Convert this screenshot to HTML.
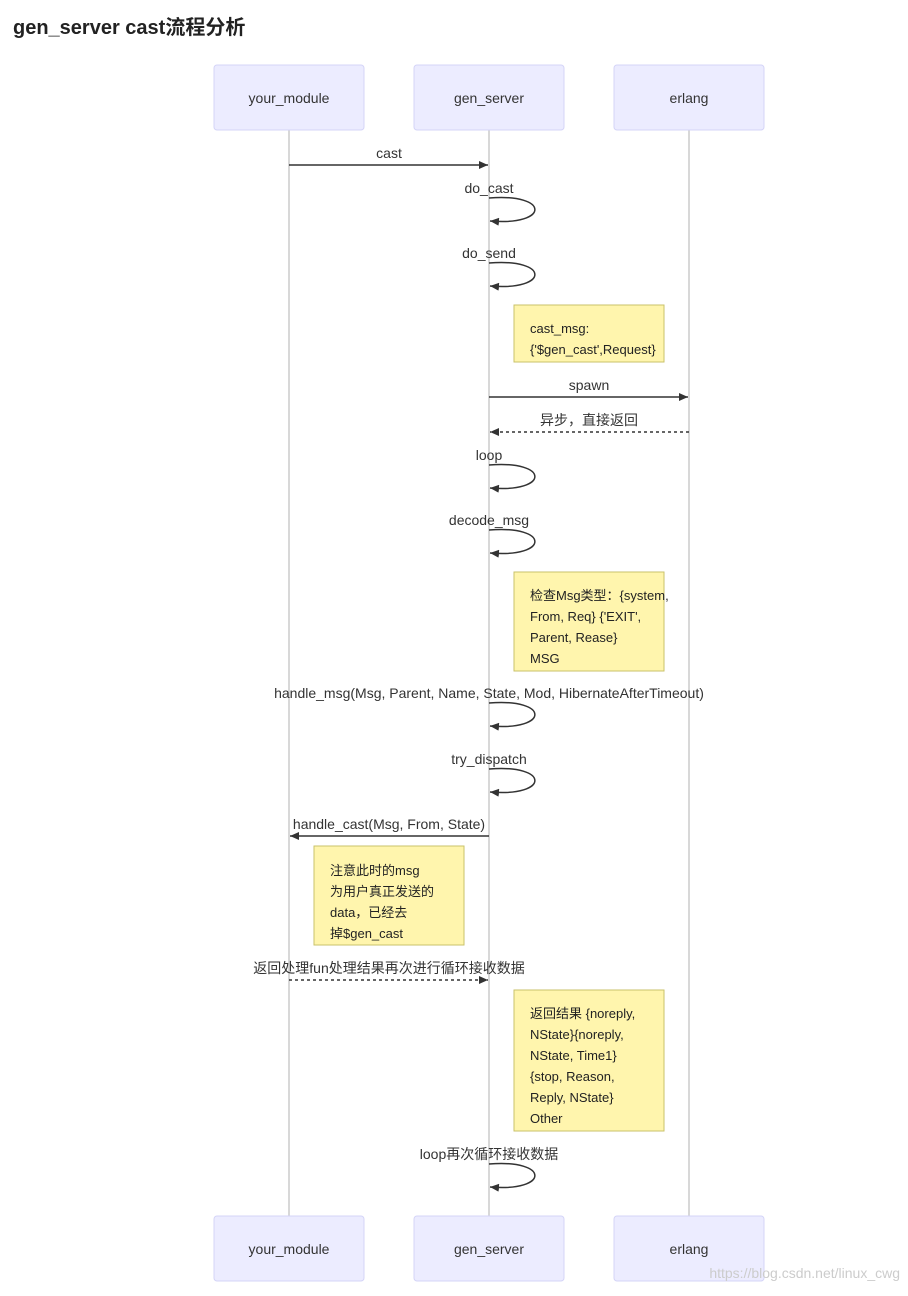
<!DOCTYPE html>
<html><head><meta charset="utf-8"><style>
body{margin:0;background:#fff;width:908px;height:1291px;overflow:hidden}
svg text{font-family:"Liberation Sans","Noto Sans CJK SC",sans-serif}
</style></head><body>
<svg width="908" height="1291" xmlns="http://www.w3.org/2000/svg">
<defs>
<marker id="a" markerWidth="10" markerHeight="8" refX="9" refY="4" orient="auto" markerUnits="userSpaceOnUse"><path d="M0,0 L9,4 L0,8 z" fill="#333"/></marker>
</defs>
<text x="13" y="34" font-size="20" font-weight="bold" fill="#222">gen_server cast流程分析</text>
<g stroke="#ccc" stroke-width="1.5"><line x1="289" y1="130" x2="289" y2="1216"/><line x1="489" y1="130" x2="489" y2="1216"/><line x1="689" y1="130" x2="689" y2="1216"/></g>
<g fill="#ececff" stroke="#d4d4f7" stroke-width="1">
<rect x="214" y="65" width="150" height="65" rx="3"/><rect x="414" y="65" width="150" height="65" rx="3"/><rect x="614" y="65" width="150" height="65" rx="3"/>
<rect x="214" y="1216" width="150" height="65" rx="3"/><rect x="414" y="1216" width="150" height="65" rx="3"/><rect x="614" y="1216" width="150" height="65" rx="3"/>
</g>
<g font-size="14" fill="#333" text-anchor="middle">
<text x="289" y="103">your_module</text><text x="489" y="103">gen_server</text><text x="689" y="103">erlang</text>
<text x="289" y="1254">your_module</text><text x="489" y="1254">gen_server</text><text x="689" y="1254">erlang</text>
<text x="389" y="158">cast</text>
<text x="489" y="193">do_cast</text>
<text x="489" y="258">do_send</text>
<text x="589" y="390">spawn</text>
<text x="589" y="425">异步，直接返回</text>
<text x="489" y="460">loop</text>
<text x="489" y="525">decode_msg</text>
<text x="489" y="698">handle_msg(Msg, Parent, Name, State, Mod, HibernateAfterTimeout)</text>
<text x="489" y="764">try_dispatch</text>
<text x="389" y="829">handle_cast(Msg, From, State)</text>
<text x="389" y="973">返回处理fun处理结果再次进行循环接收数据</text>
<text x="489" y="1159">loop再次循环接收数据</text>
</g>
<g stroke="#333" stroke-width="1.5" fill="none">
<line x1="289" y1="165" x2="488" y2="165" marker-end="url(#a)"/>
<line x1="489" y1="397" x2="688" y2="397" marker-end="url(#a)"/>
<line x1="689" y1="432" x2="490" y2="432" stroke-dasharray="3,3" marker-end="url(#a)"/>
<line x1="489" y1="836" x2="290" y2="836" marker-end="url(#a)"/>
<line x1="289" y1="980" x2="488" y2="980" stroke-dasharray="3,3" marker-end="url(#a)"/>
<path d="M489,198 C550,193 550,226 490,221" marker-end="url(#a)"/>
<path d="M489,263 C550,258 550,291 490,286" marker-end="url(#a)"/>
<path d="M489,465 C550,460 550,493 490,488" marker-end="url(#a)"/>
<path d="M489,530 C550,525 550,558 490,553" marker-end="url(#a)"/>
<path d="M489,703 C550,698 550,731 490,726" marker-end="url(#a)"/>
<path d="M489,769 C550,764 550,797 490,792" marker-end="url(#a)"/>
<path d="M489,1164 C550,1159 550,1192 490,1187" marker-end="url(#a)"/>
</g>
<g fill="#fff5ad" stroke="#c9c26a" stroke-width="1">
<rect x="514" y="305" width="150" height="57"/>
<rect x="514" y="572" width="150" height="99"/>
<rect x="314" y="846" width="150" height="99"/>
<rect x="514" y="990" width="150" height="141"/>
</g>
<g font-size="13" fill="#222">
<text x="530" y="333">cast_msg:</text><text x="530" y="354">{'$gen_cast',Request}</text>
<text x="530" y="600">检查Msg类型：{system,</text><text x="530" y="621">From, Req} {'EXIT',</text><text x="530" y="642">Parent, Rease}</text><text x="530" y="663">MSG</text>
<text x="330" y="875">注意此时的msg</text><text x="330" y="896">为用户真正发送的</text><text x="330" y="917">data，已经去</text><text x="330" y="938">掉$gen_cast</text>
<text x="530" y="1018">返回结果 {noreply,</text><text x="530" y="1039">NState}{noreply,</text><text x="530" y="1060">NState, Time1}</text><text x="530" y="1081">{stop, Reason,</text><text x="530" y="1102">Reply, NState}</text><text x="530" y="1123">Other</text>
</g>
<text x="900" y="1278" font-size="14" fill="#ccc" text-anchor="end">https://blog.csdn.net/linux_cwg</text>
</svg>
</body></html>
